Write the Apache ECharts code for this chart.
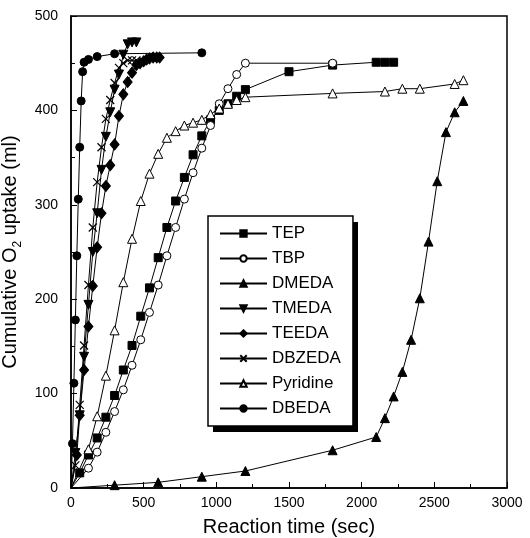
<!DOCTYPE html>
<html>
<head>
<meta charset="utf-8">
<script src="https://cdn.jsdelivr.net/npm/echarts@6/dist/echarts.min.js"></script>
<style>
html, body { margin: 0; height: 100%; background: #fff; }
#chart { width: 530px; height: 538px; }
</style>
</head>
<body>
<div id="chart"></div>
<script>
// reaction time (sec) and cumulative O2 uptake (ml) for each additive
var tepTime = [0,60,120,180,240,300,360,420,480,540,600,660,720,780,840,900,960,1020,1080,1140,1200,1500,1800,2100,2160,2220];
var tepO2   = [0,16,35,53,75,98,125,151,182,212,244,276,304,329,353,373,390,400,407,415,422,441,448,451,451,451];

var tbpTime = [0,120,180,240,300,360,420,480,540,600,660,720,780,840,900,960,1020,1080,1140,1200,1800];
var tbpO2   = [0,21,38,59,81,104,130,157,186,215,246,276,306,334,360,384,407,423,438,450,450];

var dmedaTime = [0,300,600,900,1200,1800,2100,2160,2220,2280,2340,2400,2460,2520,2580,2640,2700];
var dmedaO2   = [0,3,6,12,18,40,54,74,97,123,157,201,261,325,377,398,410];

var tmedaTime = [0,30,60,90,120,150,180,210,240,270,300,330,360,390,420,450];
var tmedaO2   = [0,37,77,139,194,250,291,337,372,398,422,438,459,470,472,472];

var teedaTime = [0,40,60,90,120,150,180,210,240,270,300,330,360,390,420,450,475,500,520,540,565,590,610];
var teedaO2   = [0,35,77,125,171,214,255,291,320,342,364,394,417,430,440,448,450,452,454,455,456,456,456];

var dbzedaTime = [0,30,60,90,120,150,180,210,240,270,300,330,360,390,420,450];
var dbzedaO2   = [0,24,88,151,215,276,324,361,391,411,429,445,450,453,453,453];

var pyrTime = [0,120,180,240,300,360,420,480,540,600,660,720,780,840,900,960,1020,1080,1140,1200,1800,2160,2280,2400,2640,2700];
var pyrO2   = [0,41,76,119,167,218,264,304,333,354,371,378,384,387,390,396,402,407,411,414,418,420,423,423,428,432];

var dbedaTime = [0,10,20,30,40,50,60,70,80,90,120,180,300,900];
var dbedaO2   = [0,47,111,178,246,306,361,410,441,451,454,457,460,461];

var xTicks = [0, 500, 1000, 1500, 2000, 2500, 3000];
var yTicks = [0, 100, 200, 300, 400, 500];

function pairs(t, v) {
    return t.map(function (x, i) {
        // no marker on the shared origin point
        if (x === 0 && v[i] === 0) return { value: [x, v[i]], symbol: 'none' };
        return [x, v[i]];
    });
}

var black = { color: '#000', borderColor: '#000', borderWidth: 1 };
var hollow = { color: '#fff', borderColor: '#000', borderWidth: 1 };

function mk(name, t, v, symbol, size, style, rotate) {
    return {
        name: name,
        type: 'line',
        data: pairs(t, v),
        symbol: symbol,
        symbolSize: size,
        symbolRotate: rotate || 0,
        showAllSymbol: true,
        itemStyle: style,
        lineStyle: { color: '#000', width: 1 },
        emphasis: { disabled: true }
    };
}

var chart = echarts.init(document.getElementById('chart'));
var font = 'Liberation Sans, Arial, sans-serif';

// legend box: left/top and size, shadow drawn behind it
var legBox = { x: 208, y: 216, w: 145, h: 210 };

var option = {
    animation: false,
    textStyle: { fontFamily: font, color: '#000' },
    grid: {
        left: 71, right: 23, top: 16, bottom: 50,
        outerBoundsMode: 'none', containLabel: false,
        show: true, borderColor: '#000', borderWidth: 1.5
    },
    graphic: [{
        type: 'rect', z: 1,
        shape: { x: legBox.x + 5, y: legBox.y + 6, width: legBox.w, height: legBox.h },
        style: { fill: '#000' }
    }],
    legend: {
        orient: 'vertical', z: 5,
        left: legBox.x, top: legBox.y,
        itemWidth: 47, itemHeight: 8, itemGap: 8,
        padding: [9, 12, 9, 11],
        backgroundColor: '#fff',
        borderColor: '#000', borderWidth: 1.5,
        textStyle: { fontSize: 17, color: '#000', fontFamily: font },
        data: ['TEP', 'TBP', 'DMEDA', 'TMEDA', 'TEEDA', 'DBZEDA', 'Pyridine', 'DBEDA']
    },
    xAxis: {
        type: 'value', min: xTicks[0], max: xTicks[xTicks.length - 1], interval: 500,
        name: 'Reaction time (sec)', nameLocation: 'middle', nameGap: 29,
        nameTextStyle: { fontSize: 20, color: '#000', fontFamily: font },
        axisLine: { lineStyle: { color: '#000', width: 1.5 } },
        axisTick: { inside: true, length: 6, lineStyle: { color: '#000', width: 1 } },
        minorTick: { show: true, splitNumber: 2, length: 4, lineStyle: { color: '#000', width: 1 } },
        splitLine: { show: false },
        axisLabel: { fontSize: 14, color: '#000', margin: 8, fontFamily: font,
                     formatter: function (v) { return String(v); } }
    },
    yAxis: {
        type: 'value', min: yTicks[0], max: yTicks[yTicks.length - 1], interval: 100,
        name: 'Cumulative O{sub|2} uptake (ml)', nameLocation: 'middle', nameGap: 36,
        nameTextStyle: {
            fontSize: 20, color: '#000', fontFamily: font,
            rich: { sub: { fontSize: 12, lineHeight: 26, verticalAlign: 'bottom', fontFamily: font, color: '#000' } }
        },
        axisLine: { lineStyle: { color: '#000', width: 1.5 } },
        axisTick: { inside: true, length: 6, lineStyle: { color: '#000', width: 1 } },
        minorTick: { show: true, splitNumber: 2, length: 4, lineStyle: { color: '#000', width: 1 } },
        splitLine: { show: false },
        axisLabel: { fontSize: 14, color: '#000', margin: 13, fontFamily: font }
    },
    series: [
        mk('TEP', tepTime, tepO2, 'rect', 8, black),
        mk('TBP', tbpTime, tbpO2, 'circle', 8, hollow),
        mk('DMEDA', dmedaTime, dmedaO2, 'triangle', 9, black),
        mk('TMEDA', tmedaTime, tmedaO2, 'triangle', 9, black, 180),
        mk('TEEDA', teedaTime, teedaO2, 'diamond', [9, 11], black),
        mk('DBZEDA', dbzedaTime, dbzedaO2, 'path://M0,0L10,10M0,10L10,0', 8,
           { color: 'none', borderColor: '#000', borderWidth: 1.2 }),
        mk('Pyridine', pyrTime, pyrO2, 'triangle', 9, hollow),
        mk('DBEDA', dbedaTime, dbedaO2, 'circle', 8, black)
    ]
};
chart.setOption(option);
</script>
</body>
</html>
